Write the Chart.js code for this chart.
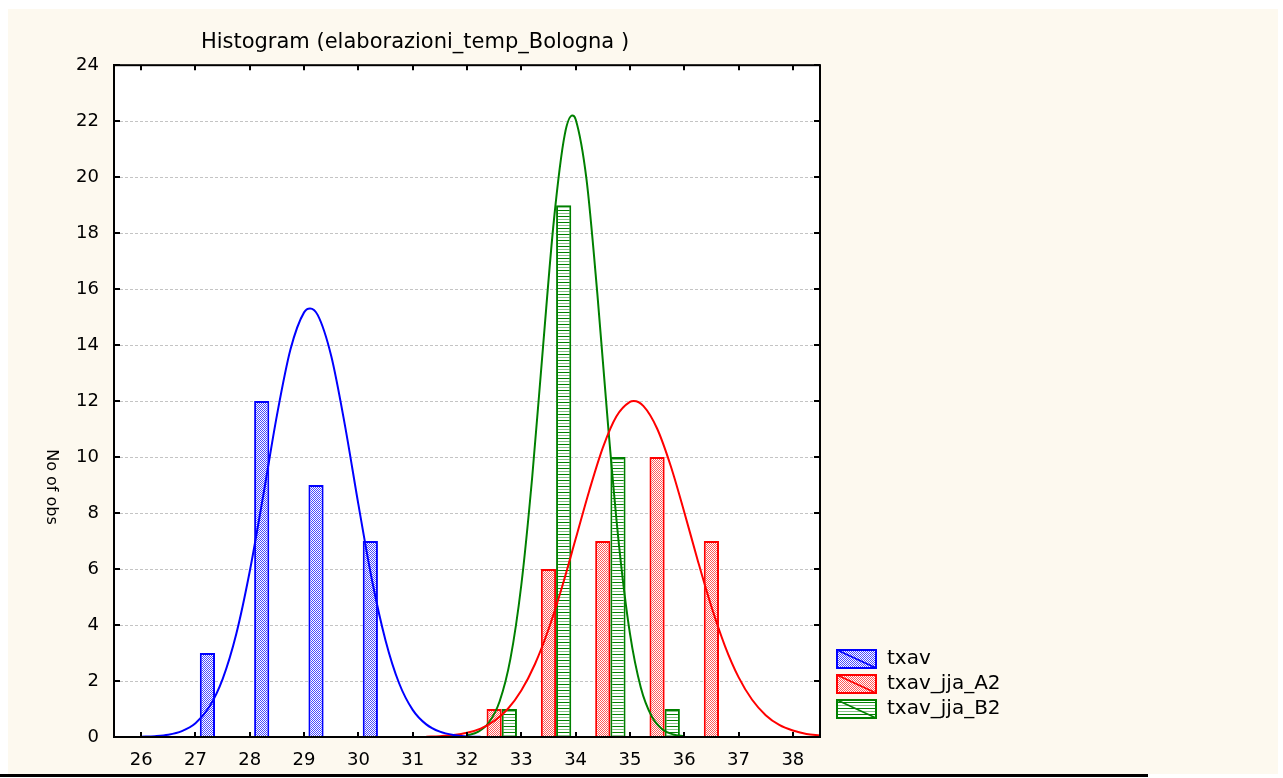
<!DOCTYPE html>
<html>
<head>
<meta charset="utf-8">
<title>Histogram (elaborazioni_temp_Bologna )</title>
<script src="https://cdn.jsdelivr.net/npm/chart.js@4.4.1/dist/chart.umd.min.js"></script>
<style>
  html, body { margin: 0; padding: 0; background: #fff; }
  #page { position: relative; width: 1283px; height: 778px; overflow: hidden; }
  #paper { position: absolute; left: 8px; top: 9px; width: 1270px; height: 765px; background: #fdf9ef; }
  #rule { position: absolute; left: 0; top: 774px; width: 1148px; height: 3px; background: #000; }
  #chart { position: absolute; left: 0; top: 0; }
</style>
</head>
<body>
<div id="page">
  <div id="paper"></div>
  <div id="rule"></div>
  <canvas id="chart" width="1283" height="778"></canvas>
</div>
<script>
const seriesNames = ['txav', 'txav_jja_A2', 'txav_jja_B2'];
const seriesColors = ['#0000ff', '#ff0000', '#008000'];

const xTickLabels = [26, 27, 28, 29, 30, 31, 32, 33, 34, 35, 36, 37, 38];

// histogram counts, one bar per 1-degree bin (bin centre)
const txavBins = [27.5, 28.5, 29.5, 30.5];
const txavCounts = [3, 12, 9, 7];
const a2Bins = [32.5, 33.5, 34.5, 35.5, 36.5];
const a2Counts = [1, 6, 7, 10, 7];
const b2Bins = [32.5, 33.5, 34.5, 35.5];
const b2Counts = [1, 19, 10, 1];

// fitted normal curves
const txavCurveX = [26, 26.25, 26.5, 26.75, 27, 27.25, 27.5, 27.75, 28, 28.25, 28.5, 28.75, 29, 29.11,
  29.25, 29.5, 29.75, 30, 30.25, 30.5, 30.75, 31, 31.25, 31.5, 31.75, 32, 32.25];
const txavCurveY = [0.01, 0.03, 0.08, 0.21, 0.49, 1.06, 2.07, 3.67, 5.92, 8.65, 11.49, 13.85, 15.17, 15.31,
  15.08, 13.61, 11.16, 8.31, 5.61, 3.45, 1.92, 0.97, 0.45, 0.19, 0.07, 0.02, 0.01];

const a2CurveX = [31.25, 31.5, 31.75, 32, 32.25, 32.5, 32.75, 33, 33.25, 33.5, 33.75, 34, 34.25, 34.5, 34.75, 35,
  35.07, 35.25, 35.5, 35.75, 36, 36.25, 36.5, 36.75, 37, 37.25, 37.5, 37.75, 38, 38.25, 38.5];
const a2CurveY = [0.01, 0.03, 0.07, 0.15, 0.30, 0.57, 1.00, 1.66, 2.60, 3.84, 5.36, 7.07, 8.79, 10.33, 11.45, 11.97,
  12.0, 11.82, 11.02, 9.69, 8.04, 6.30, 4.66, 3.25, 2.14, 1.33, 0.78, 0.43, 0.23, 0.11, 0.05];

const b2CurveX = [32, 32.2, 32.4, 32.6, 32.8, 33, 33.2, 33.4, 33.6, 33.8, 33.94, 34, 34.2, 34.4, 34.6, 34.8,
  35, 35.2, 35.4, 35.6, 35.8, 36];
const b2CurveY = [0.06, 0.18, 0.51, 1.27, 2.80, 5.43, 9.27, 13.94, 18.46, 21.52, 22.2, 22.07, 19.93, 15.84, 11.08, 6.83,
  3.70, 1.77, 0.74, 0.27, 0.09, 0.03];

const toPoints = (xs, ys) => xs.map((x, i) => ({x: x, y: ys[i]}));

const canvas = document.getElementById('chart');
const mainCtx = canvas.getContext('2d');

function makePattern(w, h, draw) {
  const c = document.createElement('canvas');
  c.width = w;
  c.height = h;
  const g = c.getContext('2d');
  g.fillStyle = '#fff';
  g.fillRect(0, 0, w, h);
  draw(g);
  return mainCtx.createPattern(c, 'repeat');
}

const patterns = [
  makePattern(4, 4, g => {
    g.fillStyle = '#4a4aff';
    for (let y = 0; y < 4; y++) for (let x = 0; x < 4; x++) if ((x + y) % 2 === 0) g.fillRect(x, y, 1, 1);
  }),
  makePattern(4, 4, g => {
    g.fillStyle = '#ff5a5a';
    for (let y = 0; y < 4; y++) for (let x = 0; x < 4; x++) if ((x + y) % 2 === 0) g.fillRect(x, y, 1, 1);
  }),
  makePattern(1, 6, g => {
    g.fillStyle = '#008000';
    g.fillRect(0, 0, 1, 1);
    g.fillStyle = '#8ac48a';
    g.fillRect(0, 3, 1, 1);
  })
];

const barData = [toPoints(txavBins, txavCounts), toPoints(a2Bins, a2Counts), toPoints(b2Bins, b2Counts)];
const curveData = [toPoints(txavCurveX, txavCurveY), toPoints(a2CurveX, a2CurveY), toPoints(b2CurveX, b2CurveY)];

const datasets = [];
seriesNames.forEach((name, i) => {
  datasets.push({
    type: 'bar',
    label: name,
    data: barData[i],
    backgroundColor: patterns[i],
    borderColor: seriesColors[i],
    borderWidth: 2,
    categoryPercentage: 0.84,
    barPercentage: 1,
    order: 2
  });
});
seriesNames.forEach((name, i) => {
  datasets.push({
    type: 'line',
    label: name + ' (normal)',
    data: curveData[i],
    borderColor: seriesColors[i],
    borderWidth: 2,
    pointRadius: 0,
    fill: false,
    cubicInterpolationMode: 'monotone',
    order: 1
  });
});

const FONT = 'DejaVu Sans';

const decor = {
  id: 'decor',
  beforeDraw(chart) {
    const {ctx, chartArea: a} = chart;
    ctx.save();
    ctx.fillStyle = '#fff';
    ctx.fillRect(a.left, a.top, a.right - a.left, a.bottom - a.top);
    ctx.restore();
  },
  afterDraw(chart) {
    const {ctx, chartArea: a} = chart;
    const xs = chart.scales.x, ys = chart.scales.y;
    ctx.save();
    // frame
    ctx.strokeStyle = '#000';
    ctx.lineWidth = 2;
    ctx.strokeRect(a.left, a.top, a.right - a.left, a.bottom - a.top);
    // inward tick marks
    ctx.beginPath();
    ys.ticks.forEach(t => {
      const p = Math.round(ys.getPixelForValue(t.value));
      ctx.moveTo(a.left, p); ctx.lineTo(a.left + 6, p);
      ctx.moveTo(a.right, p); ctx.lineTo(a.right - 6, p);
    });
    xs.ticks.forEach(t => {
      const p = Math.round(xs.getPixelForValue(t.value));
      ctx.moveTo(p, a.bottom); ctx.lineTo(p, a.bottom - 5);
      ctx.moveTo(p, a.top); ctx.lineTo(p, a.top + 5);
    });
    ctx.stroke();

    // y axis title, reading top to bottom
    ctx.fillStyle = '#000';
    ctx.font = '16px "' + FONT + '"';
    ctx.translate(a.left - 63, a.bottom - 250);
    ctx.rotate(Math.PI / 2);
    ctx.textAlign = 'center';
    ctx.textBaseline = 'middle';
    ctx.fillText('No of obs', 0, 0);
    ctx.restore();

    // legend
    ctx.save();
    ctx.font = '20px "' + FONT + '"';
    ctx.textBaseline = 'middle';
    seriesNames.forEach((name, i) => {
      const bx = a.right + 16;
      const by = a.bottom - 88 + i * 25;
      ctx.fillStyle = patterns[i];
      ctx.fillRect(bx, by, 41, 20);
      ctx.strokeStyle = seriesColors[i];
      ctx.lineWidth = 2;
      ctx.strokeRect(bx + 1, by + 1, 39, 18);
      ctx.lineWidth = 1.5;
      ctx.beginPath();
      ctx.moveTo(bx + 1, by + 1);
      ctx.lineTo(bx + 40, by + 19);
      ctx.stroke();
      ctx.fillStyle = '#000';
      ctx.fillText(name, bx + 51, by + 10);
    });
    ctx.restore();
  }
};

new Chart(canvas, {
  type: 'bar',
  data: {datasets: datasets},
  options: {
    responsive: false,
    animation: false,
    devicePixelRatio: 1,
    events: [],
    layout: {padding: {left: 10, right: 463, top: 10, bottom: 0}},
    plugins: {
      legend: {display: false},
      tooltip: {enabled: false},
      title: {
        display: true,
        text: 'Histogram (elaborazioni_temp_Bologna )',
        color: '#000',
        font: {family: FONT, size: 21, weight: 'normal'},
        padding: {top: 20, bottom: 10}
      }
    },
    scales: {
      x: {
        type: 'linear',
        min: 25.5,
        max: 38.5,
        offset: false,
        afterBuildTicks: s => { s.ticks = xTickLabels.map(v => ({value: v})); },
        afterFit: s => { s.height = 41; },
        grid: {display: false, drawTicks: false, offset: false},
        border: {display: true, color: '#000', width: 2},
        ticks: {color: '#000', font: {family: FONT, size: 18}, padding: 13, maxRotation: 0, autoSkip: false}
      },
      y: {
        min: 0,
        max: 24,
        afterFit: s => { s.width = 104; },
        grid: {color: '#c4c4c4', lineWidth: 1, drawTicks: false},
        border: {display: true, color: '#000', width: 2, dash: [3, 2]},
        ticks: {stepSize: 2, color: '#000', font: {family: FONT, size: 18}, padding: 15}
      }
    }
  },
  plugins: [decor]
});
</script>
</body>
</html>
